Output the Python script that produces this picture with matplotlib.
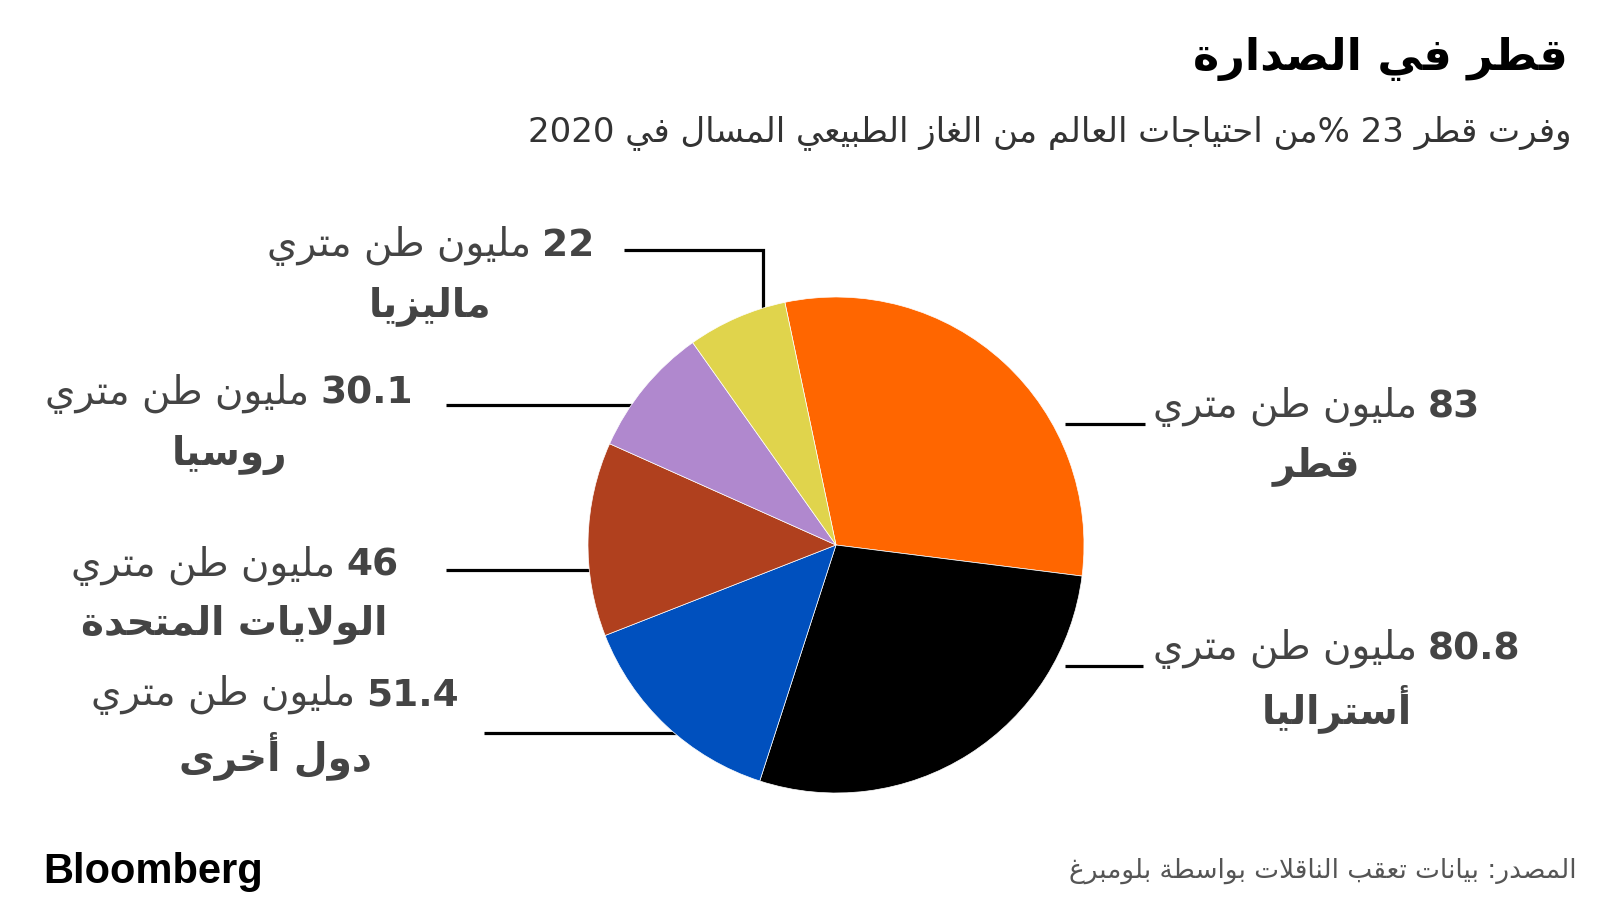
import re
import matplotlib
matplotlib.use("Agg")
import matplotlib.pyplot as plt

# ---------------- data ----------------
countries = ["قطر", "أستراليا", "دول أخرى", "الولايات المتحدة", "روسيا", "ماليزيا"]
values_mt = ["83", "80.8", "51.4", "46", "30.1", "22"]          # labelled volumes (million tonnes)
slice_degrees = [109.1, 100.7, 50.7, 45.5, 30.6, 23.4]            # slice angles as drawn in the picture
colors = ["#FF6600", "#000000", "#0050BE", "#B0401E", "#B088CE", "#E0D44C"]
unit_text = "مليون طن متري"
title_text = "قطر في الصدارة"
subtitle_text = "وفرت قطر 23 %من احتياجات العالم من الغاز الطبيعي المسال في 2020"
source_text = "المصدر: بيانات تعقب الناقلات بواسطة بلومبرغ"
brand_text = "Bloomberg"

# ---------------- minimal Arabic shaping + bidi ----------------
_DUAL = {'ئ': 0xFE89, 'ب': 0xFE8F, 'ت': 0xFE95, 'ث': 0xFE99, 'ج': 0xFE9D, 'ح': 0xFEA1,
         'خ': 0xFEA5, 'س': 0xFEB1, 'ش': 0xFEB5, 'ص': 0xFEB9, 'ض': 0xFEBD, 'ط': 0xFEC1,
         'ظ': 0xFEC5, 'ع': 0xFEC9, 'غ': 0xFECD, 'ف': 0xFED1, 'ق': 0xFED5, 'ك': 0xFED9,
         'ل': 0xFEDD, 'م': 0xFEE1, 'ن': 0xFEE5, 'ه': 0xFEE9, 'ي': 0xFEF1}
_RIGHT = {'آ': 0xFE81, 'أ': 0xFE83, 'ؤ': 0xFE85, 'إ': 0xFE87, 'ا': 0xFE8D, 'ة': 0xFE93,
          'د': 0xFEA9, 'ذ': 0xFEAB, 'ر': 0xFEAD, 'ز': 0xFEAF, 'و': 0xFEED, 'ى': 0xFEEF}
_LAMALEF = {'آ': 0xFEF5, 'أ': 0xFEF7, 'إ': 0xFEF9, 'ا': 0xFEFB}


def _shape(text):
    units = []  # (kind, base)
    i = 0
    while i < len(text):
        c = text[i]
        if c == 'ل' and i + 1 < len(text) and text[i + 1] in _LAMALEF:
            units.append(('right', _LAMALEF[text[i + 1]]))
            i += 2
            continue
        if c in _DUAL:
            units.append(('dual', _DUAL[c]))
        elif c in _RIGHT:
            units.append(('right', _RIGHT[c]))
        else:
            units.append(('none', c))
        i += 1
    out = []
    for k, (kind, base) in enumerate(units):
        if kind == 'none':
            out.append(base)
            continue
        jp = k > 0 and units[k - 1][0] == 'dual'
        jn = kind == 'dual' and k + 1 < len(units) and units[k + 1][0] != 'none'
        if kind == 'right':
            out.append(chr(base + (1 if jp else 0)))
        else:
            if jp and jn:
                off = 3
            elif jp:
                off = 1
            elif jn:
                off = 2
            else:
                off = 0
            out.append(chr(base + off))
    return ''.join(out)


def ar(text):
    s = _shape(text)
    tokens = re.findall(r'[0-9A-Za-z]+(?:[.,][0-9]+)*|.', s)
    return ''.join(reversed(tokens))


# ---------------- figure ----------------
W, H = 1600, 900
fig = plt.figure(figsize=(16, 9), dpi=100)
fig.patch.set_facecolor("white")

ov = fig.add_axes([0, 0, 1, 1])
ov.set_xlim(0, W)
ov.set_ylim(H, 0)
ov.axis("off")

# pie
cx, cy, r = 836, 545, 248
pax = fig.add_axes([(cx - r) / W, (H - cy - r) / H, 2 * r / W, 2 * r / H])
pax.pie(slice_degrees, colors=colors, startangle=101.9, counterclock=False,
        wedgeprops=dict(edgecolor="white", linewidth=0.5))
pax.set_xlim(-1, 1)
pax.set_ylim(-1, 1)
pax.axis("off")

# leader lines (figure pixel coordinates)
leaders = [
    [(1145, 424), (1065, 424)],
    [(1143, 666), (1065, 666)],
    [(484, 733), (690, 733)],
    [(446, 570), (605, 570)],
    [(446, 405), (645, 405)],
    [(624, 250), (763, 250), (763, 320)],
]
for pts in leaders:
    xs, ys = zip(*pts)
    ov.plot(xs, ys, color="black", lw=2.3, solid_capstyle="butt", solid_joinstyle="miter")

# labels
label_layout = [  # side, anchor x, line1 y, line2 y
    ("R", 1153, 407, 466),
    ("R", 1153, 649, 709),
    ("L", 459, 695, 756),
    ("L", 398, 566, 624),
    ("L", 413, 394, 455),
    ("L", 594, 246, 306),
]
lab_col = "#444444"
renderer = fig.canvas.get_renderer()
gap = 11
for name, val, (side, ax_x, y1, y2) in zip(countries, values_mt, label_layout):
    tn = ov.text(0, y1, val, fontsize=27, fontweight="bold", color=lab_col,
                 ha="right", va="center", family="DejaVu Sans")
    tu = ov.text(0, y1, ar(unit_text), fontsize=28, color=lab_col,
                 ha="right", va="center", family="DejaVu Sans")
    wn = tn.get_window_extent(renderer).width
    wu = tu.get_window_extent(renderer).width
    total = wn + gap + wu
    right = ax_x if side == "L" else ax_x + total
    tn.set_x(right)
    tu.set_x(right - wn - gap)
    ov.text(right - total / 2, y2, ar(name), fontsize=28, fontweight="bold",
            color=lab_col, ha="center", va="center", family="DejaVu Sans")

# title, subtitle
ov.text(1568, 59, ar(title_text), fontsize=32, fontweight="bold", color="black",
        ha="right", va="center", family="DejaVu Sans")
ov.text(1571, 133, ar(subtitle_text), fontsize=24.5, color="#333333",
        ha="right", va="center", family="DejaVu Sans")

# footer
ov.text(43, 872, brand_text, fontsize=30, fontweight="bold", color="black",
        ha="left", va="center", family="Liberation Sans")
ov.text(1577, 871, ar(source_text), fontsize=19, color="#555555",
        ha="right", va="center", family="DejaVu Sans")

fig.savefig("out.png", dpi=100, facecolor="white")
